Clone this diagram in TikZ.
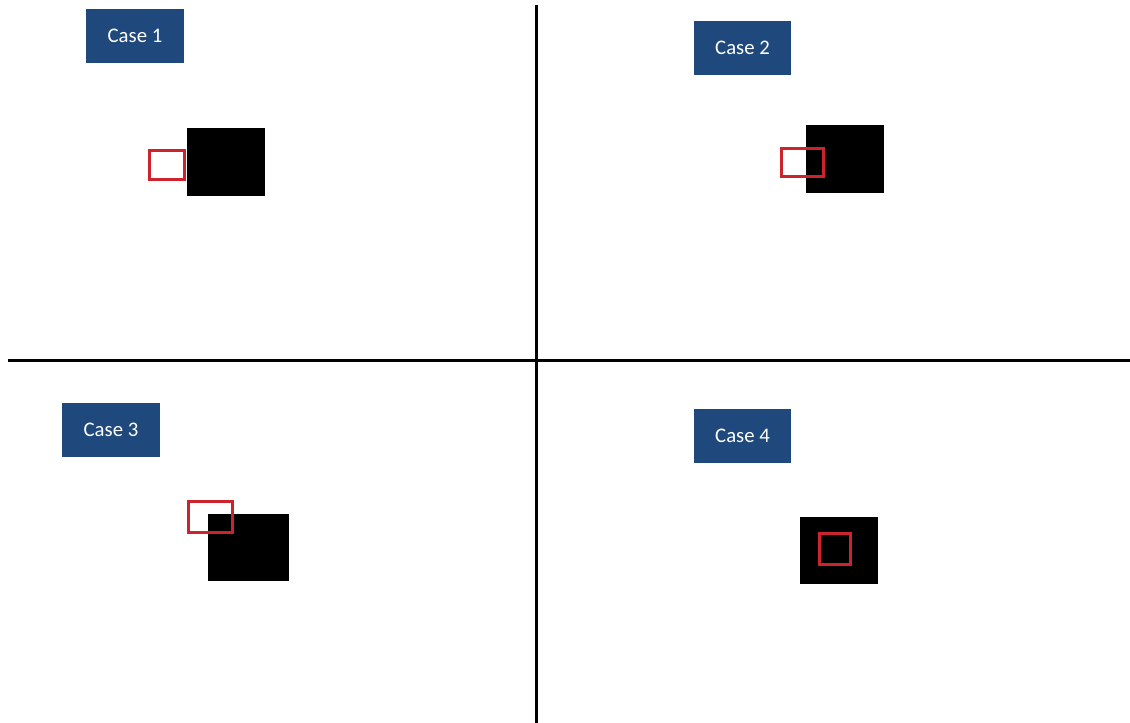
\documentclass[tikz,border=0pt]{standalone}
\usepackage{fontspec}
\setmainfont{Carlito}
\definecolor{casebg}{RGB}{31,73,125}
\definecolor{boxred}{RGB}{205,35,45}
\begin{document}
\begin{tikzpicture}[x=0.02cm, y=-0.02cm,
    casebox/.style={rectangle, fill=casebg, text=white, minimum width=1.96cm, minimum height=1.08cm, inner sep=0pt, font=\fontsize{11.8pt}{13pt}\selectfont},
    target/.style={rectangle, fill=black, inner sep=0pt},
    window/.style={rectangle, draw=boxred, line width=0.06cm, inner sep=0pt},
    divider/.style={line width=0.06cm}
]
\useasboundingbox (0,0) rectangle (1130,723);

% Dividers
\coordinate (top) at (536,5);
\coordinate (bottom) at (536,723);
\coordinate (left) at (8,360);
\coordinate (right) at (1130,360);
\draw[divider] (top) -- (bottom);
\draw[divider] (left) -- (right);

% Case 1
\node[casebox] (case1) at (135,36) {Case 1};
\node[target, minimum width=1.56cm, minimum height=1.36cm] (obj1) at (226,162) {};
\node[window, minimum width=0.70cm, minimum height=0.58cm] (win1) at (167,165) {};

% Case 2
\node[casebox] (case2) at (742.5,48) {Case 2};
\node[target, minimum width=1.56cm, minimum height=1.36cm] (obj2) at (845,159) {};
\node[window, minimum width=0.84cm, minimum height=0.56cm] (win2) at (802.5,162.5) {};

% Case 3
\node[casebox] (case3) at (111,430) {Case 3};
\node[target, minimum width=1.62cm, minimum height=1.34cm] (obj3) at (248.5,547.5) {};
\node[window, minimum width=0.88cm, minimum height=0.62cm] (win3) at (210.5,517) {};

% Case 4
\node[casebox] (case4) at (742.5,436) {Case 4};
\node[target, minimum width=1.56cm, minimum height=1.34cm] (obj4) at (839,550.5) {};
\node[window, minimum width=0.62cm, minimum height=0.62cm] (win4) at (835,549) {};
\end{tikzpicture}
\end{document}
